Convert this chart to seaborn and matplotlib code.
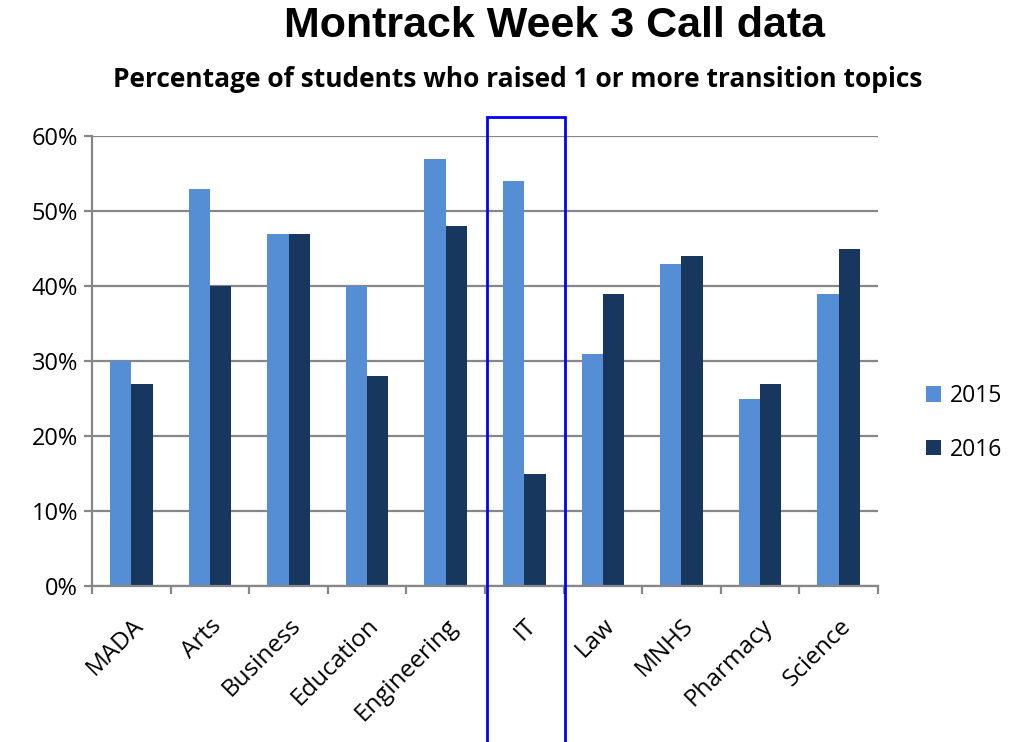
import matplotlib
matplotlib.use("Agg")
import matplotlib.pyplot as plt
import matplotlib.patches as mpatches
import numpy as np
import pandas as pd
import seaborn as sns

# data
faculties = ["MADA", "Arts", "Business", "Education", "Engineering",
             "IT", "Law", "MNHS", "Pharmacy", "Science"]
pct_2015 = [30, 53, 47, 40, 57, 54, 31, 43, 25, 39]
pct_2016 = [27, 40, 47, 28, 48, 15, 39, 44, 27, 45]
years = ["2015", "2016"]
colors = ["#558ED5", "#17375E"]
highlight = "IT"

df = pd.DataFrame({
    "faculty": faculties * 2,
    "year": [years[0]] * len(faculties) + [years[1]] * len(faculties),
    "pct": pct_2015 + pct_2016,
})

sns.set_style("white")
plt.rcParams["font.family"] = ["Open Sans", "DejaVu Sans"]
plt.rcParams["text.color"] = "black"
plt.rcParams["xtick.color"] = "black"
plt.rcParams["ytick.color"] = "black"

fig = plt.figure(figsize=(10.17, 7.42), dpi=100)
ax = fig.add_axes([0.0905, 0.2102, 0.7728, 0.6065])

sns.barplot(data=df, x="faculty", y="pct", hue="year", palette=colors,
            order=faculties, hue_order=years, width=0.54, ax=ax,
            saturation=1, linewidth=0, legend=True)

grid_col = "#878787"
ax.set_ylim(0, 60)
ax.set_xlim(-0.5, len(faculties) - 0.5)
ax.set_yticks(np.arange(0, 61, 10))
ax.set_yticklabels([f"{v}%" for v in range(0, 61, 10)], fontsize=17)
ax.yaxis.grid(True, color=grid_col, linewidth=1.6)
ax.set_axisbelow(True)
ax.tick_params(axis="y", length=6, width=1.6, color=grid_col, left=True,
               pad=4, labelcolor="black")

ax.set_xticks(range(len(faculties)))
ax.set_xticklabels(faculties, rotation=45, ha="right", rotation_mode="anchor",
                   fontsize=17.5)
ax.tick_params(axis="x", which="major", length=0, pad=20, labelcolor="black")
ax.set_xticks(np.arange(-0.5, len(faculties)), minor=True)
ax.tick_params(axis="x", which="minor", length=6, width=1.6, color=grid_col,
               bottom=True)
ax.set_xlabel("")
ax.set_ylabel("")

for side in ["top", "right"]:
    ax.spines[side].set_visible(False)
for side in ["left", "bottom"]:
    ax.spines[side].set_color(grid_col)
    ax.spines[side].set_linewidth(1.6)

# legend on the right
handles, labels = ax.get_legend_handles_labels()
ax.get_legend().remove()
fig.legend(handles, labels, loc="center left", bbox_to_anchor=(0.89, 0.43),
           frameon=False, fontsize=16.5, handlelength=0.65, handleheight=0.65,
           handletextpad=0.4, labelspacing=1.3)

# highlight box around IT
i = faculties.index(highlight)
rect = mpatches.Rectangle((i - 0.48, -22), 1.0, 84.5, fill=False,
                          edgecolor="#0000FF", linewidth=2, clip_on=False,
                          zorder=5)
ax.add_patch(rect)

fig.text(0.545, 0.965, "Montrack Week 3 Call data", ha="center", va="center",
         fontsize=31, fontweight="bold", family=["Liberation Sans", "DejaVu Sans"])
fig.text(0.509, 0.893, "Percentage of students who raised 1 or more transition topics",
         ha="center", va="center", fontsize=19, fontweight="bold")

fig.savefig("out.png", dpi=100)
